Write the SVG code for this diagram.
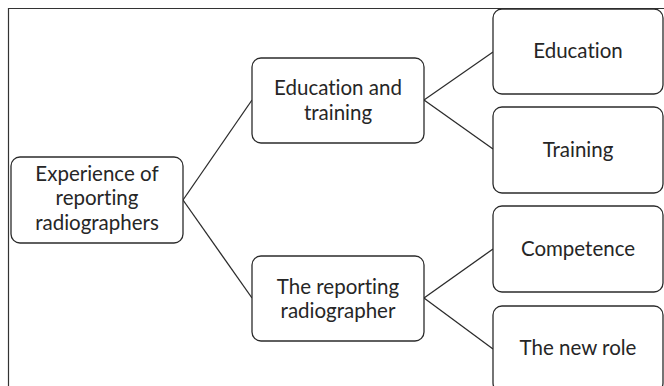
<svg xmlns="http://www.w3.org/2000/svg" width="664" height="386" viewBox="0 0 664 386">
  <style>
    .box { fill: #ffffff; stroke: #2b2b2b; stroke-width: 1.3; }
    .lbl { font-family: Lato, "Liberation Sans", sans-serif; font-size: 20.5px; fill: #262626; text-anchor: middle; font-variant-ligatures: none; }
    .edge { stroke: #2b2b2b; stroke-width: 1.3; fill: none; }
  </style>
  <rect width="664" height="386" fill="#ffffff"/>
  <!-- outer frame (top and left edges) -->
  <path d="M8.5 386 V8.5 H664" fill="none" stroke="#333333" stroke-width="1.2"/>

  <g id="connectors">
    <line class="edge" x1="183" y1="200" x2="252" y2="100"/>
    <line class="edge" x1="183" y1="200" x2="252" y2="298"/>
    <line class="edge" x1="424" y1="100" x2="493" y2="52"/>
    <line class="edge" x1="424" y1="100" x2="493" y2="149"/>
    <line class="edge" x1="424" y1="298" x2="493" y2="249"/>
    <line class="edge" x1="424" y1="298" x2="493" y2="349"/>
  </g>

  <g id="root">
    <rect class="box" x="11" y="157" width="172" height="86" rx="9"/>
    <text class="lbl" x="97" y="181">Experience of</text>
    <text class="lbl" x="97" y="205">reporting</text>
    <text class="lbl" x="97" y="230">radiographers</text>
  </g>

  <g id="education-and-training">
    <rect class="box" x="252" y="58" width="172" height="85" rx="9"/>
    <text class="lbl" x="338" y="95">Education and</text>
    <text class="lbl" x="338" y="120">training</text>
  </g>

  <g id="reporting-radiographer">
    <rect class="box" x="252" y="256" width="172" height="85" rx="9"/>
    <text class="lbl" x="338" y="294">The reporting</text>
    <text class="lbl" x="338" y="318">radiographer</text>
  </g>

  <g id="education">
    <rect class="box" x="493" y="9" width="170" height="85" rx="9"/>
    <text class="lbl" x="578" y="58">Education</text>
  </g>

  <g id="training">
    <rect class="box" x="493" y="107" width="170" height="86" rx="9"/>
    <text class="lbl" x="578" y="157">Training</text>
  </g>

  <g id="competence">
    <rect class="box" x="493" y="206" width="170" height="86" rx="9"/>
    <text class="lbl" x="578" y="256">Competence</text>
  </g>

  <g id="new-role">
    <rect class="box" x="493" y="306" width="170" height="86" rx="9"/>
    <text class="lbl" x="578" y="355">The new role</text>
  </g>
</svg>
